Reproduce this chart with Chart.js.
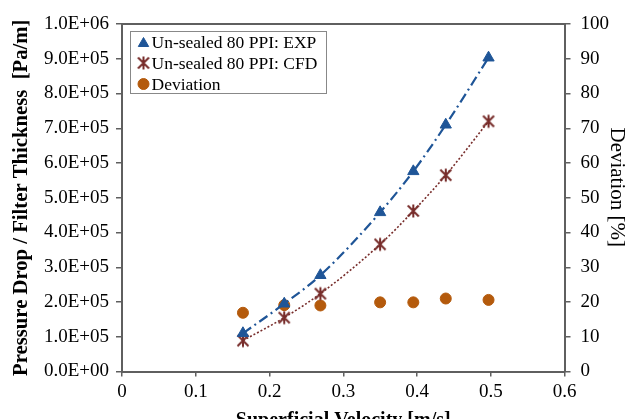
<!DOCTYPE html>
<html>
<head>
<meta charset="utf-8">
<script src="https://cdn.jsdelivr.net/npm/chart.js@4.4.1/dist/chart.umd.min.js"></script>
<style>
html, body { margin: 0; padding: 0; background: #fff; overflow: hidden; width: 634px; height: 419px; }
</style>
</head>
<body>
<canvas id="myChart" width="634" height="440"></canvas>
<script>
// values
var velocity = [0.164, 0.22, 0.269, 0.35, 0.395, 0.439, 0.497];
var expDrop = [110000, 195000, 277000, 458000, 576000, 710000, 903000];
var cfdDrop = [89000, 155000, 224000, 366000, 462000, 565000, 720000];
var deviation = [16.9, 19.1, 19.0, 19.9, 19.9, 21.0, 20.6];

var legendLabels = ['Un-sealed 80 PPI: EXP', 'Un-sealed 80 PPI: CFD', 'Deviation'];
var xTitle = 'Superficial Velocity [m/s]';
var yTitle = 'Pressure Drop / Filter Thickness  [Pa/m]';
var y1Title = 'Deviation [%]    '; // trailing spaces nudge it up like the original

var blue = '#1f5597';
var red = '#772c2a';
var orange = '#b45a0c';
var axisGrey = '#5f5f5f';
var serif = '"Liberation Serif", "Times New Roman", serif';

function pts(xs, ys) {
	var out = [];
	for (var i in xs) out.push({x: xs[i], y: ys[i]});
	return out;
}

function sci(v) {
	if (v === 0) return '0.0E+00';
	var e = Math.floor(Math.log10(v) + 1e-9);
	var m = v / Math.pow(10, e);
	return m.toFixed(1) + 'E+' + (e < 10 ? '0' + e : e);
}

// asterisk marker (x with vertical bar)
var star = document.createElement('canvas');
star.width = 16; star.height = 16;
(function(){
	var c = star.getContext('2d');
	c.strokeStyle = red; c.lineWidth = 2;
	c.beginPath();
	c.moveTo(2.5, 2.5); c.lineTo(13.5, 13.5);
	c.moveTo(13.5, 2.5); c.lineTo(2.5, 13.5);
	c.moveTo(8, 1.5); c.lineTo(8, 14.5);
	c.stroke();
})();

// top border of the plot + legend box inside the plot
var boxPlugin = {
	id: 'boxAndLegend',
	afterDraw: function(chart) {
		var ctx = chart.ctx, a = chart.chartArea;
		ctx.save();
		ctx.strokeStyle = axisGrey; ctx.lineWidth = 2;
		ctx.beginPath();
		ctx.moveTo(a.left - 1, a.top); ctx.lineTo(a.right + 1, a.top);
		ctx.stroke();

		ctx.fillStyle = '#fff';
		ctx.fillRect(130.5, 31.5, 196, 62);
		ctx.strokeStyle = '#888'; ctx.lineWidth = 1;
		ctx.strokeRect(130.5, 31.5, 196, 62);
		var rows = [42.5, 63, 84];
		for (var i = 0; i < 3; i++) {
			var ds = chart.data.datasets[i];
			ctx.fillStyle = ds.pointBackgroundColor;
			ctx.strokeStyle = ds.pointBorderColor;
			ctx.lineWidth = 1;
			Chart.helpers.drawPoint(ctx, {
				pointStyle: ds.pointStyle, radius: i === 0 ? 6 : 5.5, rotation: 0, borderWidth: 1
			}, 143.5, rows[i] + (i === 0 ? 1 : 0));
			ctx.font = '17.5px ' + serif;
			ctx.textBaseline = 'middle';
			ctx.textAlign = 'left';
			ctx.fillStyle = '#000';
			ctx.fillText(legendLabels[i], 151.5, rows[i] + 1);
		}
		ctx.restore();
	}
};

var ctx = document.getElementById('myChart');
var chart = new Chart(ctx, {
	type: 'scatter',
	data: {
		datasets: [
			{
				label: legendLabels[0],
				data: pts(velocity, expDrop),
				yAxisID: 'y',
				showLine: true,
				borderColor: blue,
				borderWidth: 2.2,
				borderDash: [10, 4, 2, 4],
				tension: 0.4,
				cubicInterpolationMode: 'monotone',
				pointStyle: 'triangle',
				pointRadius: 6.5,
				pointBackgroundColor: blue,
				pointBorderColor: blue,
				pointBorderWidth: 1
			},
			{
				label: legendLabels[1],
				data: pts(velocity, cfdDrop),
				yAxisID: 'y',
				showLine: true,
				borderColor: red,
				borderWidth: 1.6,
				borderDash: [2, 2],
				tension: 0.4,
				cubicInterpolationMode: 'monotone',
				pointStyle: star,
				pointRadius: 7,
				pointBackgroundColor: red,
				pointBorderColor: red
			},
			{
				label: legendLabels[2],
				data: pts(velocity, deviation),
				yAxisID: 'y1',
				showLine: false,
				pointStyle: 'circle',
				pointRadius: 5.5,
				pointBackgroundColor: orange,
				pointBorderColor: orange,
				pointBorderWidth: 1
			}
		]
	},
	options: {
		responsive: false,
		animation: false,
		layout: { padding: { top: 24, left: 0, right: 0, bottom: 0 } },
		plugins: {
			legend: { display: false },
			tooltip: { enabled: false }
		},
		scales: {
			x: {
				type: 'linear',
				min: 0, max: 0.6,
				ticks: {
					stepSize: 0.1, color: '#000', padding: 4,
					font: { family: serif, size: 19 },
					callback: function(v) { return (Math.round(v * 10) / 10).toString(); }
				},
				grid: { drawOnChartArea: false, tickLength: 5, color: axisGrey, lineWidth: 1.5 },
				border: { color: axisGrey, width: 2 },
				title: {
					display: true, text: xTitle, color: '#000',
					font: { family: serif, size: 20, weight: 'bold' },
					padding: { top: 0, bottom: 7 }
				},
				afterFit: function(s) { s.height = 68.5; }
			},
			y: {
				position: 'left',
				min: 0, max: 1000000,
				ticks: {
					stepSize: 100000, color: '#000', padding: 7,
					font: { family: serif, size: 19 },
					callback: function(v) { return sci(v); }
				},
				grid: { drawOnChartArea: false, tickLength: 6, color: axisGrey, lineWidth: 1.5 },
				border: { color: axisGrey, width: 2 },
				title: {
					display: true, text: yTitle, color: '#000',
					font: { family: serif, size: 20.7, weight: 'bold' },
					padding: { top: 9, bottom: 0 }
				},
				afterFit: function(s) { s.width = 122; }
			},
			y1: {
				position: 'right',
				min: 0, max: 100,
				ticks: {
					stepSize: 10, color: '#000', padding: 10,
					font: { family: serif, size: 19 }
				},
				grid: { drawOnChartArea: false, tickLength: 6, color: axisGrey, lineWidth: 1.5 },
				border: { color: axisGrey, width: 2 },
				title: {
					display: true, text: y1Title, color: '#000',
					font: { family: serif, size: 21 },
					padding: { top: 5, bottom: 0 }
				},
				afterFit: function(s) { s.width = 69.5; }
			}
		}
	},
	plugins: [boxPlugin]
});
</script>
</body>
</html>
